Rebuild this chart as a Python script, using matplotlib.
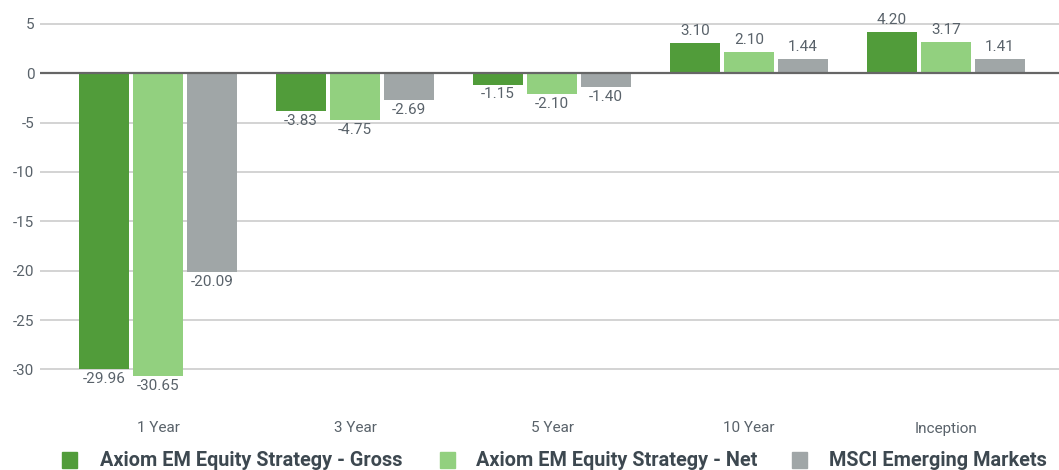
import numpy as np
import matplotlib
matplotlib.use('Agg')
import matplotlib.pyplot as plt
from matplotlib.patches import Rectangle

categories = ['1 Year', '3 Year', '5 Year', '10 Year', 'Inception']
gross = [-29.96, -3.83, -1.15, 3.10, 4.20]
net = [-30.65, -4.75, -2.10, 2.10, 3.17]
msci = [-20.09, -2.69, -1.40, 1.44, 1.41]
series_names = ['Axiom EM Equity Strategy - Gross', 'Axiom EM Equity Strategy - Net', 'MSCI Emerging Markets']
y_ticks = [5, 0, -5, -10, -15, -20, -25, -30]

colors = ['#519c3a', '#92d07f', '#a0a6a7']
text_color = '#59626a'

plt.rcParams['font.family'] = ['Roboto', 'DejaVu Sans']
plt.rcParams['axes.unicode_minus'] = False

W, H = 1059, 470
fig = plt.figure(figsize=(W / 100, H / 100), dpi=100)
ax = fig.add_axes([40 / W, 1 - 409 / H, 1 - 40 / W, (409 - 4) / H])

x = np.arange(len(categories))
width = 0.254
step = 0.2745
for i, (vals, col) in enumerate(zip([gross, net, msci], colors)):
    pos = x + (i - 1) * step
    ax.bar(pos, vals, width=width, color=col, zorder=3)
    for p, v in zip(pos, vals):
        if v >= 0:
            ax.text(p, v + 0.5, f'{v:.2f}', ha='center', va='bottom', fontsize=11, color=text_color)
        else:
            ax.text(p, v - 0.3, f'{v:.2f}', ha='center', va='top', fontsize=11, color=text_color)

ax.set_xlim(-0.6, 4.574)
ax.set_ylim(-34, 7)
ax.set_yticks(y_ticks)
ax.set_xticks(x)
ax.set_xticklabels(categories)
ax.tick_params(axis='both', length=0, labelsize=11, colors=text_color)
ax.tick_params(axis='x', pad=9)
ax.tick_params(axis='y', pad=4)
ax.yaxis.grid(True, color='#cccccc', linewidth=1.2, zorder=0)
ax.axhline(0, color='#666666', linewidth=1.6, zorder=4)
for s in ax.spines.values():
    s.set_visible(False)

# legend drawn by hand so the three entries sit where the reference puts them
box_x = [62, 440, 792]
text_x = [100, 476, 829]
leg_y = 460
for bx, tx, col, name in zip(box_x, text_x, colors, series_names):
    fig.patches.append(Rectangle((bx / W, 1 - (leg_y + 8) / H), 15 / W, 16 / H,
                                 transform=fig.transFigure, color=col))
    fig.text(tx / W, 1 - leg_y / H, name, ha='left', va='center', fontsize=14.3,
             fontweight='bold', color='#3d4850')

fig.savefig('out.png', dpi=100)
